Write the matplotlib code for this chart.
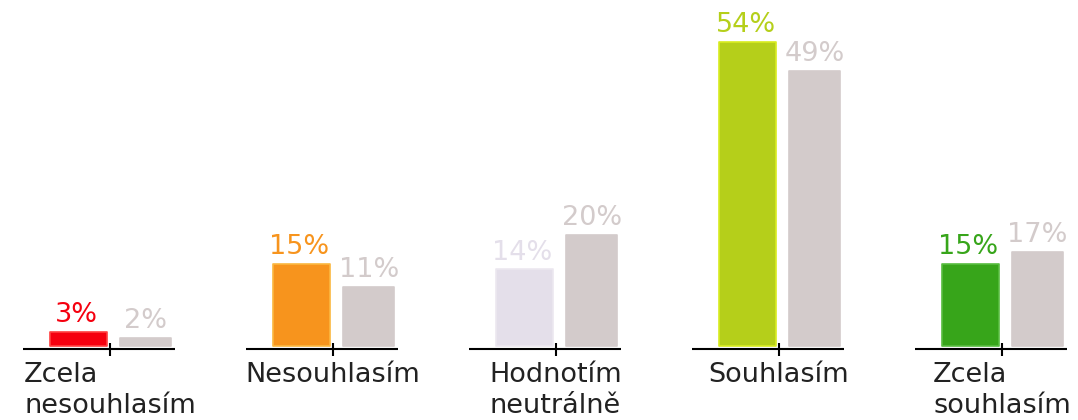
import numpy as np
import matplotlib
matplotlib.use("Agg")
import matplotlib.pyplot as plt

categories = ["Zcela\nnesouhlasím", "Nesouhlasím", "Hodnotím\nneutrálně", "Souhlasím", "Zcela\nsouhlasím"]
values_main = [3, 15, 14, 54, 15]
values_ref = [2, 11, 20, 49, 17]
colors_main = ["#f5000f", "#f7941d", "#e4dfea", "#b5cf1a", "#37a51a"]
edges_main = ["#ff4040", "#fbb840", "#ece8f0", "#d8ec20", "#58bc40"]
color_ref = "#d3cbcb"

fig = plt.figure(figsize=(10.78, 4.2), dpi=100)
ax = fig.add_axes([0, 0, 1, 1])
ax.set_xlim(-110 / 223, (1078 - 110) / 223)
ax.set_ylim(-71 / 5.68, 349 / 5.68)
ax.axis("off")

x = np.arange(len(categories))
off = 0.6

ax.bar(x - 0.141, np.array(values_main) - off, width=0.255, bottom=off,
       color=colors_main, edgecolor=edges_main, linewidth=1.2, joinstyle="round")
ax.bar(x + 0.159, np.array(values_ref) - off, width=0.232, bottom=off,
       color=color_ref, edgecolor=color_ref, linewidth=1.2, joinstyle="round")

for i in x:
    ax.hlines(0, i - 0.39, i + 0.29, color="black", lw=1.5)
    ax.vlines(i, -1.2, 1.1, color="black", lw=1.5)
    ax.text(i - 0.15, values_main[i] + 0.7, f"{values_main[i]}%", ha="center", va="bottom",
            color=colors_main[i], fontsize=19.5)
    ax.text(i + 0.16, values_ref[i] + 0.7, f"{values_ref[i]}%", ha="center", va="bottom",
            color=color_ref, fontsize=19.5)
    ax.text(i, -2.3, categories[i], ha="center", va="top", multialignment="left",
            fontsize=19.5, color="#222222", linespacing=1.25)

fig.savefig("out.png", dpi=100)
